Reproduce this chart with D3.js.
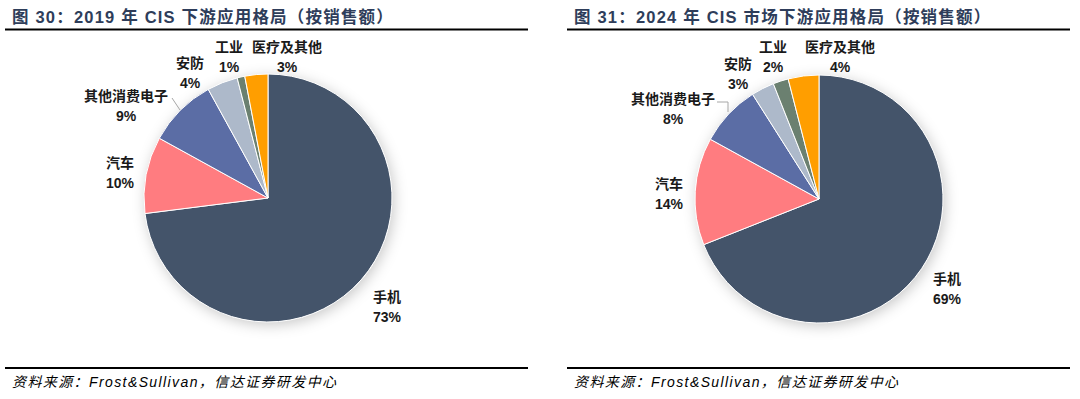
<!DOCTYPE html>
<html>
<head>
<meta charset="utf-8">
<script src="https://cdn.jsdelivr.net/npm/d3@7"></script>
<style>
  body { margin: 0; background: #fff; }
  svg { display: block; }
</style>
</head>
<body>
<div id="chart"></div>
<script>
// categories, clockwise from 12 o'clock
const categories = ['手机', '汽车', '其他消费电子', '安防', '工业', '医疗及其他'];
const values2019 = [73, 10, 9, 4, 1, 3];
const values2024 = [69, 14, 8, 3, 2, 4];
const colors = ['#44546A', '#FF7C80', '#5B6DA5', '#ADB9CA', '#6B8070', '#FF9E00'];

const titles = ['图 30：2019 年 CIS 下游应用格局（按销售额）', '图 31：2024 年 CIS 市场下游应用格局（按销售额）'];
const source = '资料来源：Frost&Sullivan，信达证券研发中心';

// label anchor spots (pixels) for each category, per panel
const labelSpots = [
  [[387, 297], [120, 163], [126, 96], [190, 63], [229, 47], [287, 47]],
  [[947, 279], [669, 184], [673, 99], [738, 64], [773, 47], [840, 47]]
];

const width = 1080, height = 399;
const svg = d3.select('#chart').append('svg')
  .attr('width', width)
  .attr('height', height);

// soft shadow round the pie
const filter = svg.append('defs').append('filter')
  .attr('id', 'shadow')
  .attr('x', '-30%').attr('y', '-30%')
  .attr('width', '160%').attr('height', '160%');
filter.append('feDropShadow')
  .attr('dx', 2).attr('dy', 3)
  .attr('stdDeviation', 7)
  .attr('flood-color', '#000')
  .attr('flood-opacity', 0.22);

const font = '"Liberation Sans", Arial, "Noto Sans CJK SC", sans-serif';

function drawPanel(x0, x1, cx, cy, title, values, spots, leader) {
  const g = svg.append('g');

  // Title
  g.append('text')
    .attr('x', x0 + 7)
    .attr('y', 23)
    .attr('font-family', font)
    .attr('font-size', '16.5px')
    .attr('font-weight', 'bold')
    .attr('letter-spacing', '1.2px')
    .attr('fill', '#2E3D5A')
    .text(title);

  // Rules top and bottom
  g.append('line')
    .attr('x1', x0).attr('x2', x1)
    .attr('y1', 29.5).attr('y2', 29.5)
    .attr('stroke', '#000').attr('stroke-width', 2.2);
  g.append('line')
    .attr('x1', x0).attr('x2', x1)
    .attr('y1', 368).attr('y2', 368)
    .attr('stroke', '#000').attr('stroke-width', 2);

  // Source note
  g.append('text')
    .attr('x', x0 + 7)
    .attr('y', 387)
    .attr('font-family', font)
    .attr('font-size', '14px')
    .attr('font-style', 'italic')
    .attr('letter-spacing', '1.4px')
    .attr('fill', '#000')
    .text(source);

  const radius = 124;
  const pie = d3.pie().sort(null).value(d => d.value);
  const arc = d3.arc().innerRadius(0).outerRadius(radius);
  const data = categories.map((c, i) => ({ name: c, value: values[i], color: colors[i] }));

  const pieG = g.append('g')
    .attr('transform', `translate(${cx}, ${cy})`);

  pieG.append('circle')
    .attr('r', radius)
    .attr('fill', '#fff')
    .attr('filter', 'url(#shadow)');

  pieG.selectAll('path')
    .data(pie(data))
    .join('path')
    .attr('d', arc)
    .attr('fill', d => d.data.color)
    .attr('stroke', '#fff')
    .attr('stroke-width', 1);

  // leader line for 其他消费电子
  g.append('polyline')
    .attr('points', leader.map(p => p.join(',')).join(' '))
    .attr('fill', 'none')
    .attr('stroke', '#A6A6A6')
    .attr('stroke-width', 1);

  // Labels
  data.forEach((d, i) => {
    const [lx, ly] = spots[i];
    const t = g.append('text')
      .attr('font-family', font)
      .attr('font-size', '14px')
      .attr('font-weight', 'bold')
      .attr('fill', '#1A1A1A')
      .attr('text-anchor', 'middle');
    t.append('tspan').attr('x', lx).attr('y', ly + 5).text(d.name);
    t.append('tspan').attr('x', lx).attr('y', ly + 25).text(d.value + '%');
  });
}

drawPanel(5, 528, 268, 198, titles[0], values2019, labelSpots[0], [[172, 98], [180, 110]]);
drawPanel(567, 1070, 819, 199, titles[1], values2024, labelSpots[1], [[717, 102], [728, 102], [728, 112]]);
</script>
</body>
</html>
